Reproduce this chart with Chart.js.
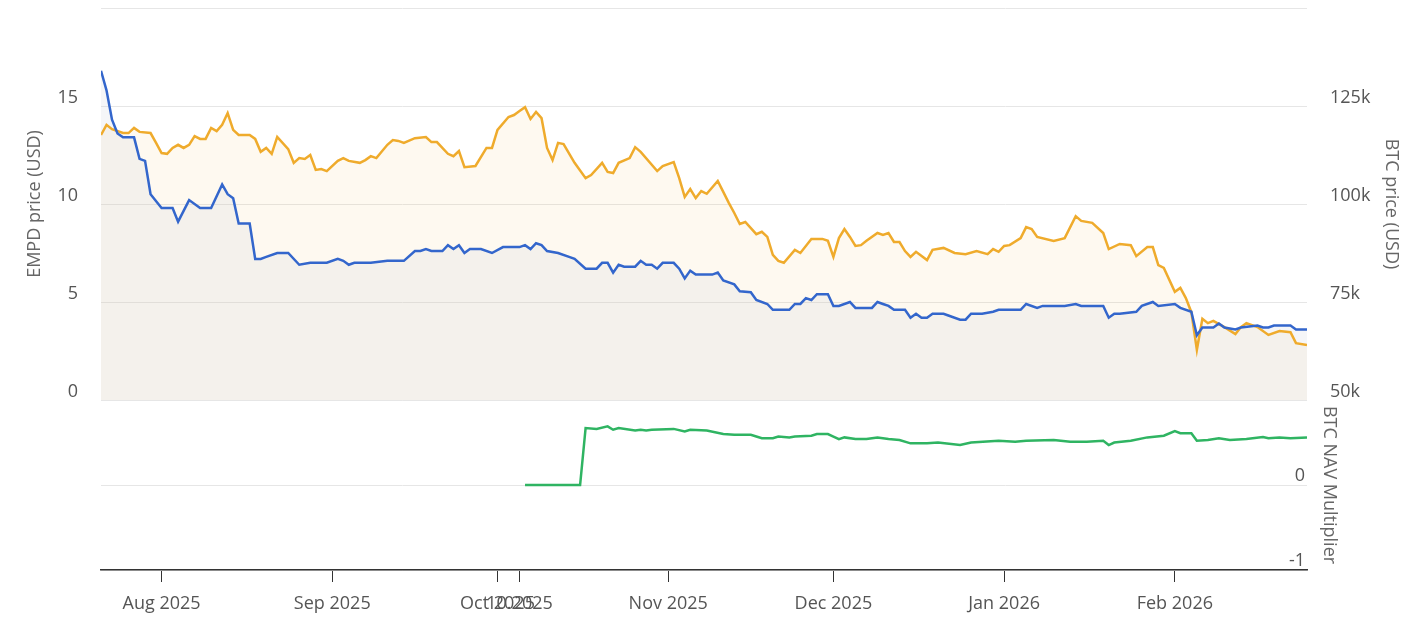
<!DOCTYPE html>
<html>
<head>
<meta charset="utf-8">
<title>EMPD price, BTC price and BTC NAV multiplier</title>
<script src="https://cdn.jsdelivr.net/npm/chart.js@4.4.1/dist/chart.umd.min.js"></script>
<style>
  html, body { margin: 0; padding: 0; background: #fff; }
  #wrap { position: relative; width: 1418px; height: 618px; }
  #priceBox { position: absolute; left: 0; top: 0; width: 1418px; height: 402px; }
  #navBox { position: absolute; left: 0; top: 400px; width: 1418px; height: 218px; }
</style>
</head>
<body>
<div id="wrap">
  <div id="priceBox"><canvas id="priceChart"></canvas></div>
  <div id="navBox"><canvas id="navChart"></canvas></div>
</div>
<script>
// x values are days counted from 2025-07-01
const dayMin = 20;
const dayMax = 239;

const tickDays = [31, 62, 92, 96, 123, 153, 184, 215];
const tickLabels = ["Aug 2025", "Sep 2025", "Oct 2025", "10.2025", "Nov 2025", "Dec 2025", "Jan 2026", "Feb 2026"];

const empdDays = [
  20, 21, 22, 23, 24, 26, 27, 28, 29, 31, 33, 34, 36, 38, 40, 42, 43, 44, 45, 47,
  48, 49, 50, 52, 54, 56, 58, 61, 63, 64, 65, 66, 69, 72, 75, 77, 78, 79, 80, 82,
  83, 84, 85, 86, 87, 89, 91, 93, 96, 97, 98, 99, 100, 101, 103, 105, 106, 108, 110, 111,
  112, 113, 114, 115, 117, 118, 119, 120, 121, 122, 124, 125, 126, 127, 128, 131, 132, 133, 135, 136,
  138, 139, 141, 142, 145, 146, 147, 148, 149, 150, 152, 153, 154, 156, 157, 160, 161, 162, 163, 164,
  166, 167, 168, 169, 170, 171, 173, 174, 176, 177, 178, 180, 182, 183, 187, 188, 190, 191, 195, 197,
  198, 202, 203, 204, 205, 208, 209, 211, 212, 215, 216, 218, 219, 220, 222, 223, 224, 226, 227, 230,
  231, 232, 233, 236, 237, 239
];
const empdPrice = [
  16.8, 15.8, 14.3, 13.6, 13.4, 13.4, 12.3, 12.2, 10.5, 9.8, 9.8, 9.1, 10.2, 9.8, 9.8, 11.0, 10.5, 10.3, 9.0, 9.0,
  7.2, 7.2, 7.3, 7.5, 7.5, 6.9, 7.0, 7.0, 7.2, 7.1, 6.9, 7.0, 7.0, 7.1, 7.1, 7.6, 7.6, 7.7, 7.6, 7.6,
  7.9, 7.7, 7.9, 7.5, 7.7, 7.7, 7.5, 7.8, 7.8, 7.9, 7.7, 8.0, 7.9, 7.6, 7.5, 7.3, 7.2, 6.7, 6.7, 7.0,
  7.0, 6.5, 6.9, 6.8, 6.8, 7.1, 6.9, 6.9, 6.7, 7.0, 7.0, 6.7, 6.2, 6.6, 6.4, 6.4, 6.5, 6.1, 5.9, 5.55,
  5.5, 5.1, 4.9, 4.6, 4.6, 4.9, 4.9, 5.2, 5.1, 5.4, 5.4, 4.8, 4.8, 5.0, 4.7, 4.7, 5.0, 4.9, 4.8, 4.6,
  4.6, 4.2, 4.4, 4.2, 4.2, 4.4, 4.4, 4.3, 4.1, 4.1, 4.4, 4.4, 4.5, 4.6, 4.6, 4.9, 4.7, 4.8, 4.8, 4.9,
  4.8, 4.8, 4.2, 4.4, 4.4, 4.5, 4.8, 5.0, 4.8, 4.9, 4.7, 4.5, 3.3, 3.7, 3.7, 3.9, 3.7, 3.6, 3.7, 3.8,
  3.7, 3.7, 3.8, 3.8, 3.6, 3.6
];

const btcDays = [
  20, 21, 22, 24, 25, 26, 27, 29, 30, 31, 32, 33, 34, 35, 36, 37, 38, 39, 40, 41,
  42, 43, 44, 45, 47, 48, 49, 50, 51, 52, 54, 55, 56, 57, 58, 59, 60, 61, 63, 64,
  65, 67, 68, 69, 70, 72, 73, 74, 75, 77, 79, 80, 81, 83, 84, 85, 86, 88, 90, 91,
  92, 94, 95, 96, 97, 98, 99, 100, 101, 102, 103, 104, 106, 108, 109, 111, 112, 113, 114, 116,
  117, 118, 121, 122, 124, 125, 126, 127, 128, 129, 130, 132, 133, 134, 135, 136, 137, 139, 140, 141,
  142, 143, 144, 146, 147, 149, 151, 152, 153, 154, 155, 156, 157, 158, 159, 161, 162, 163, 164, 165,
  166, 167, 168, 170, 171, 173, 175, 177, 179, 181, 182, 183, 184, 185, 187, 188, 189, 190, 193, 195,
  197, 198, 200, 202, 203, 205, 207, 208, 210, 211, 212, 213, 215, 216, 217, 218, 219, 220, 221, 222,
  224, 226, 227, 228, 230, 232, 234, 236, 237, 239
];
const btcPrice = [
  117600, 120200, 119100, 118100, 118100, 119400, 118400, 118100, 115600, 113000, 112800, 114300, 115100, 114300, 115100, 117300, 116600, 116600, 119400, 118600,
  120200, 123200, 118900, 117600, 117600, 116600, 113300, 114300, 112800, 117100, 114000, 110500, 111700, 111500, 112500, 108700, 108900, 108400, 111000, 111700,
  111000, 110500, 111200, 112200, 111700, 115100, 116300, 116100, 115600, 116800, 117100, 115800, 115800, 112800, 112200, 113500, 109400, 109700, 114300, 114300,
  118900, 122200, 122700, 123700, 124700, 121700, 123500, 121900, 114300, 111200, 115600, 115300, 110500, 106600, 107400, 110500, 108200, 107900, 110500, 111700,
  114500, 113300, 108400, 109700, 110700, 106600, 101800, 103800, 101500, 103300, 102600, 105900, 103100, 100300, 97700, 94900, 95400, 92300, 92900, 91600,
  87000, 85500, 85000, 88300, 87500, 91100, 91100, 90600, 86500, 91300, 93600, 91600, 89300, 89500, 90600, 92600, 92100, 92600, 90300, 90300,
  88000, 86500, 87800, 85700, 88300, 88800, 87500, 87200, 88000, 87200, 88500, 87800, 89300, 89500, 91300, 94100, 93600, 91600, 90600, 91300,
  96900, 95700, 95200, 92600, 88500, 89800, 89500, 86700, 89000, 89000, 84400, 83700, 77600, 78600, 76000, 72400, 62800, 70700, 69600, 70200,
  68600, 66800, 68600, 69600, 68600, 66600, 67600, 67300, 64500, 64000
];

const navDays = [
  97, 107, 108, 110, 112, 113, 114, 117, 118, 119, 120, 124, 126, 127, 130, 133, 135, 138, 139, 140,
  142, 143, 145, 146, 149, 150, 152, 153, 154, 155, 157, 159, 161, 163, 165, 167, 170, 172, 176, 178,
  183, 186, 188, 193, 196, 199, 202, 203, 204, 207, 210, 213, 215, 216, 218, 219, 221, 223, 225, 228,
  231, 232, 234, 236, 239
];
const navValue = [
  0, 0, 0.67, 0.66, 0.69, 0.65, 0.67, 0.64, 0.65, 0.64, 0.65, 0.66, 0.63, 0.65, 0.64, 0.6, 0.59, 0.59, 0.57, 0.55,
  0.55, 0.57, 0.56, 0.57, 0.58, 0.6, 0.6, 0.57, 0.54, 0.56, 0.54, 0.54, 0.56, 0.54, 0.53, 0.49, 0.49, 0.5, 0.47, 0.5,
  0.52, 0.51, 0.52, 0.53, 0.51, 0.51, 0.52, 0.47, 0.5, 0.52, 0.56, 0.58, 0.635, 0.61, 0.61, 0.52, 0.53, 0.55, 0.53, 0.54,
  0.565, 0.55, 0.56, 0.55, 0.56
];

Chart.defaults.font.family = "'Open Sans', sans-serif";
Chart.defaults.font.size = 18;
Chart.defaults.color = "#555";

const toPoints = (days, values) => days.map((d, i) => ({ x: d, y: values[i] }));

const titleFont = { family: "'Open Sans', sans-serif", size: 18 };

// keep the plot areas exactly where the fixed sizes put them
function fixVertical(width) {
  return scale => {
    scale.width = width;
    scale.paddingTop = 0;
    scale.paddingBottom = 0;
  };
}

new Chart(document.getElementById("priceChart"), {
  type: "line",
  data: {
    datasets: [
      {
        label: "EMPD price",
        data: toPoints(empdDays, empdPrice),
        yAxisID: "yEmpd",
        borderColor: "#3366cc",
        backgroundColor: "rgba(200, 203, 218, 0.18)",
        fill: "start",
        borderWidth: 2.5,
        pointRadius: 0,
        tension: 0
      },
      {
        label: "BTC price",
        data: toPoints(btcDays, btcPrice),
        yAxisID: "yBtc",
        borderColor: "#efab2c",
        backgroundColor: "rgba(245, 200, 110, 0.1)",
        fill: "start",
        borderWidth: 2.5,
        pointRadius: 0,
        tension: 0
      }
    ]
  },
  options: {
    responsive: true,
    maintainAspectRatio: false,
    animation: false,
    layout: { padding: { top: 8, left: 24, right: 0, bottom: 2 } },
    plugins: {
      legend: { display: false },
      tooltip: { enabled: false },
      filler: { drawTime: "beforeDatasetsDraw" }
    },
    scales: {
      x: { type: "linear", min: dayMin, max: dayMax, display: false },
      yEmpd: {
        position: "left",
        min: 0,
        max: 20,
        ticks: {
          stepSize: 5,
          padding: 23,
          labelOffset: -8,
          callback: value => (value === 20 ? "" : value)
        },
        grid: { color: "#e6e6e6", drawTicks: false },
        border: { display: false },
        title: { display: true, text: "EMPD price (USD)", color: "#666", font: titleFont, padding: 0 },
        afterFit: fixVertical(77)
      },
      yBtc: {
        position: "right",
        min: 50000,
        max: 150000,
        ticks: {
          stepSize: 25000,
          padding: 23,
          labelOffset: -8,
          callback: value => (value === 150000 ? "" : value / 1000 + "k")
        },
        grid: { drawOnChartArea: false, drawTicks: false },
        border: { display: false },
        title: { display: true, text: "BTC price (USD)", color: "#666", font: titleFont, padding: { top: 16, bottom: 0 } },
        afterFit: fixVertical(111)
      }
    }
  }
});

new Chart(document.getElementById("navChart"), {
  type: "line",
  data: {
    datasets: [
      {
        label: "BTC NAV Multiplier",
        data: toPoints(navDays, navValue),
        yAxisID: "yNav",
        borderColor: "#2fb462",
        borderWidth: 2.5,
        pointRadius: 0,
        fill: false,
        tension: 0
      }
    ]
  },
  options: {
    responsive: true,
    maintainAspectRatio: false,
    animation: false,
    layout: { padding: { top: 0, left: 101, right: 0, bottom: 0 } },
    plugins: {
      legend: { display: false },
      tooltip: { enabled: false }
    },
    scales: {
      x: {
        type: "linear",
        min: dayMin,
        max: dayMax,
        afterBuildTicks: scale => { scale.ticks = tickDays.map(v => ({ value: v })); },
        ticks: {
          autoSkip: false,
          maxRotation: 0,
          padding: 11,
          callback: (value, index) => tickLabels[index]
        },
        grid: { drawOnChartArea: false, drawTicks: true, tickLength: 12, color: "#333" },
        border: { display: true, color: "#333", width: 1.5 },
        afterFit: scale => {
          scale.height = 48;
          scale.paddingLeft = 0;
          scale.paddingRight = 0;
        }
      },
      yNav: {
        position: "right",
        min: -1,
        max: 1,
        ticks: {
          stepSize: 1,
          mirror: true,
          padding: -2,
          labelOffset: -9,
          callback: value => (value === 1 ? "" : value)
        },
        grid: { color: "#e6e6e6", drawTicks: false },
        border: { display: false },
        title: { display: true, text: "BTC NAV Multiplier", color: "#666", font: titleFont, padding: { top: 78, bottom: 0 } },
        afterFit: fixVertical(111)
      }
    }
  }
});
</script>
</body>
</html>
